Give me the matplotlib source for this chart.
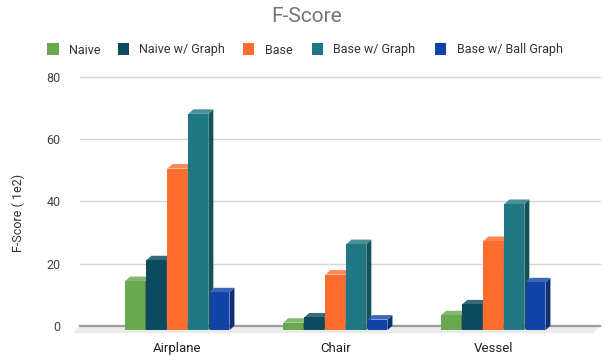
import matplotlib.pyplot as plt
from matplotlib.patches import Polygon, Rectangle
from matplotlib.colors import to_rgb
import numpy as np

plt.rcParams['font.family'] = ['Roboto', 'DejaVu Sans']

# scores per shape category
categories = ['Airplane', 'Chair', 'Vessel']
series_names = ['Naive', 'Naive w/ Graph', 'Base', 'Base w/ Graph', 'Base w/ Ball Graph']
naive = [15.8, 2.4, 4.8]
naive_graph = [22.5, 4.1, 8.3]
base = [52.0, 17.9, 28.7]
base_graph = [69.6, 27.7, 40.6]
base_ball_graph = [12.2, 3.4, 15.4]
series = [naive, naive_graph, base, base_graph, base_ball_graph]
colors = ['#6aa84f', '#0c4a60', '#ff6d2e', '#1e7782', '#1144a8']
yticks = [0, 20, 40, 60, 80]

W, H = 605, 356
fig = plt.figure(figsize=(W / 100, H / 100), dpi=100)

# axes laid out in pixels: back plane from x=80..600, y=0 at 325.7, 80 at 77
ax_left, ax_right, ax_top, ax_bottom = 80, 600, 77, 335.0
ax = fig.add_axes([ax_left / W, 1 - ax_bottom / H, (ax_right - ax_left) / W, (ax_bottom - ax_top) / H])
xpx = 158.0  # pixels per category
x_lo = (ax_left - 177.3) / xpx
x_hi = (ax_right - 177.3) / xpx
ypx = (325.7 - 77) / 80.0
y_lo = -(ax_bottom - 325.7) / ypx
ax.set_xlim(x_lo, x_hi)
ax.set_ylim(y_lo, 80)
for s in ax.spines.values():
    s.set_visible(False)

# depth of the 3d bars, in data units
dx = 5.0 / xpx
dy = 4.5 / ypx
# floor depth
fdx = 7.0 / xpx
fdy = 7.5 / ypx


def mix(c, other, t):
    c = np.array(to_rgb(c))
    return tuple(c * (1 - t) + np.array(other) * t)


# floor
floor = Polygon([(x_lo, 0), (x_hi, 0), (x_hi - fdx, -fdy), (x_lo - fdx, -fdy)],
                closed=True, facecolor='#ebebeb', edgecolor='none', zorder=0, clip_on=False)
ax.add_patch(floor)

# gridlines and baseline
for t in yticks[1:]:
    ax.plot([x_lo, x_hi], [t, t], color='#d6d6d6', lw=1.0, zorder=1, clip_on=False)
ax.plot([x_lo, x_hi], [0, 0], color='#9a9a9a', lw=1.6, zorder=1, clip_on=False)

pitch = 0.1335
bw = 0.126
x = np.arange(len(categories))
z = 2
for i, (vals, col) in enumerate(zip(series, colors)):
    offs = (i - 2) * pitch
    xs = x + offs - bw / 2
    top_c = mix(col, (1, 1, 1), 0.18)
    side_c = mix(col, (0, 0, 0), 0.3)
    for j in range(len(categories)):
        v = vals[j]
        x0 = xs[j]
        x1 = x0 + bw
        # side face
        ax.add_patch(Polygon([(x1, -dy), (x1 + dx, 0), (x1 + dx, v), (x1, v - dy)],
                             closed=True, facecolor=side_c, edgecolor='none', zorder=z))
        # top face
        ax.add_patch(Polygon([(x0, v - dy), (x1, v - dy), (x1 + dx, v), (x0 + dx, v)],
                             closed=True, facecolor=top_c, edgecolor='none', zorder=z))
    # front face
    ax.bar(xs, vals, width=bw, bottom=-dy, align='edge', color=col, zorder=z + 0.5)
    z += 1

ax.set_xticks(x)
ax.set_xticklabels(categories, fontsize=9.5, color='#222222')
ax.set_yticks(yticks)
ax.set_yticklabels([str(t) for t in yticks], fontsize=9, color='#444444')
ax.tick_params(axis='both', length=0)
ax.tick_params(axis='y', pad=14)
ax.tick_params(axis='x', pad=5)


def px(xp, yp):
    return xp / W, 1 - yp / H


fig.text(*px(307, 16), 'F-Score', fontsize=15, color='#757575', ha='center', va='center')
fig.text(*px(18, 213), 'F-Score ( 1e2)', fontsize=9, color='#333333', rotation=90,
         ha='center', va='center')

# legend
sq_x = [47, 117.5, 242.5, 311.5, 434.5]
txt_x = [69.3, 139.3, 265, 332.7, 456.7]
leg_y = 49
sq = 11.5
for name, col, sx, tx in zip(series_names, colors, sq_x, txt_x):
    fig.add_artist(Rectangle(px(sx, leg_y + sq / 2), sq / W, sq / H,
                             transform=fig.transFigure, facecolor=col, edgecolor='none'))
    fig.text(*px(tx, leg_y + 1), name, fontsize=9, color='#333333', ha='left', va='center')

fig.savefig('out.png', dpi=100)
